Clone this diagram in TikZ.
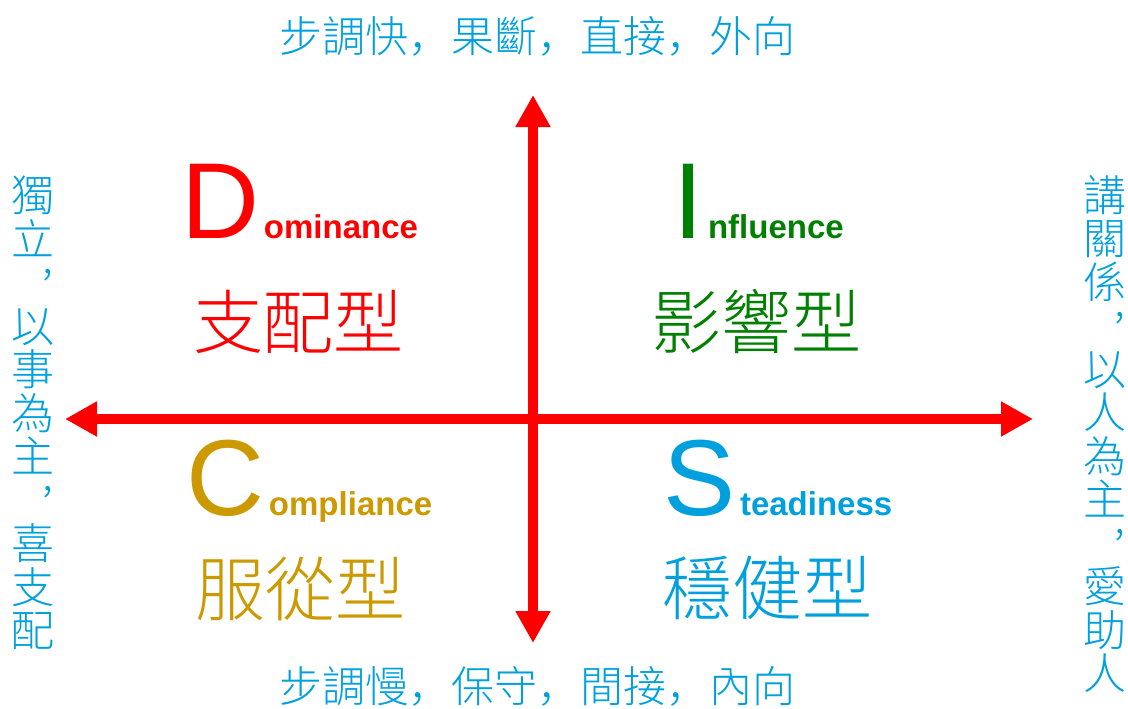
\documentclass[tikz,border=0pt]{standalone}
\usepackage{fontspec}
\setmainfont{Liberation Sans}
\newfontfamily\cjk{Noto Sans CJK TC}[UprightFont={* Light}]
\newfontfamily\cjkp{Noto Sans CJK SC}[UprightFont={* Light}]
\usetikzlibrary{arrows.meta, positioning}
\definecolor{domred}{RGB}{255,0,0}
\definecolor{infgreen}{RGB}{0,128,0}
\definecolor{comgold}{RGB}{204,153,0}
\definecolor{stesky}{RGB}{0,160,222}
\newcommand{\hcm}{{\cjkp ，}}% comma in a line
\newcommand{\vcm}{\makebox[1em][l]{\hspace{0.72em}\smash{\raisebox{0.6em}{,}}}}% comma in a column
\tikzset{
  disc/.style={
	x=1pt, y=-1pt,
	every node/.style={inner sep=0pt, outer sep=0pt},
	axis/.style={draw=domred, line width=10pt,
	  {Triangle[width=33pt,length=32pt]}-{Triangle[width=33pt,length=32pt]}},
	big/.style={font=\fontsize{108}{108}\selectfont, anchor=base west}, % first letter
	rest/.style={font=\fontsize{33}{33}\selectfont\bfseries, base right=5pt of ##1},
	kind/.style={font=\cjk\fontsize{70}{70}\selectfont},
	side/.style={text=stesky, font=\cjk\fontsize{43}{43.5}\selectfont, align=center},
  }
}
\begin{document}
\begin{tikzpicture}[disc]
	  \useasboundingbox (0,0) rectangle (1128,709);

	  % axes
	  \coordinate (up) at (533,95);
	  \coordinate (down) at (533,643);
	  \coordinate (west) at (65,419);
	  \coordinate (east) at (1033,419);
	  \draw[axis] (down) -- (up);
	  \draw[axis] (west) -- (east);

	  % the four types
	  \node[big, text=domred] (D) at (181,238) {D};
	  \node[rest=D, text=domred] (Dtail) {ominance};
	  \node[kind, text=domred] (Dkind) at (298,322) {支配型};

	  \node[big, text=infgreen] (I) at (673,238) {I};
	  \node[rest=I, text=infgreen] (Itail) {nfluence};
	  \node[kind, text=infgreen] (Ikind) at (756,322) {影響型};

	  \node[big, text=comgold] (C) at (186,515) {C};
	  \node[rest=C, text=comgold] (Ctail) {ompliance};
	  \node[kind, text=comgold] (Ckind) at (300,589) {服從型};

	  \node[big, text=stesky] (S) at (663,515) {S};
	  \node[rest=S, text=stesky] (Stail) {teadiness};
	  \node[kind, text=stesky] (Skind) at (767,588) {穩健型};

	  % texts along the axes
	  \node[side] (fast) at (537,36) {步調快\hcm 果斷\hcm 直接\hcm 外向};
	  \node[side] (slow) at (537,686) {步調慢\hcm 保守\hcm 間接\hcm 內向};
	  \node[side] (task) at (33,413) {獨\\立\\\vcm\\以\\事\\為\\主\\\vcm\\喜\\支\\配};
	  \node[side] (people) at (1105,434) {講\\關\\係\\\vcm\\以\\人\\為\\主\\\vcm\\愛\\助\\人};
\end{tikzpicture}
\end{document}
